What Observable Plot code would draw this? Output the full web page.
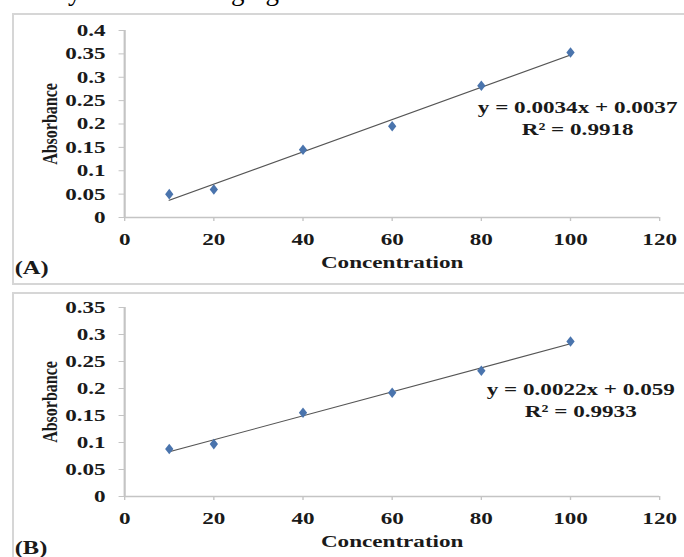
<!DOCTYPE html>
<html>
<head>
<meta charset="utf-8">
<script src="https://cdn.jsdelivr.net/npm/d3@7"></script>
<script src="https://cdn.jsdelivr.net/npm/@observablehq/plot@0.6"></script>
<style>
  html, body { margin: 0; padding: 0; background: #fff; }
  body { width: 684px; height: 557px; position: relative; overflow: hidden; }
  .box { position: absolute; border: 2px solid #d6d6d6; box-sizing: border-box; }
  svg.frag { position: absolute; left: 0; top: 0; overflow: hidden; }
</style>
</head>
<body>
<svg class="frag" width="684" height="9">
  <text x="68" y="0" font-family="Liberation Serif" font-size="27">y</text>
  <text x="231" y="0" font-family="Liberation Serif" font-size="27">ging</text>
</svg>
<div class="box" style="left:12px;top:13px;width:690px;height:272px;"></div>
<div class="box" style="left:12px;top:292px;width:690px;height:280px;"></div>
<script>
// ---- data ----
const concentration = [10, 20, 40, 60, 80, 100];
const absorbanceA = [0.05, 0.06, 0.145, 0.195, 0.282, 0.353];
const absorbanceB = [0.088, 0.097, 0.155, 0.192, 0.233, 0.287];
const xTicks = [0, 20, 40, 60, 80, 100, 120];
const yTicksA = [0, 0.05, 0.1, 0.15, 0.2, 0.25, 0.3, 0.35, 0.4];
const yTicksB = [0, 0.05, 0.1, 0.15, 0.2, 0.25, 0.3, 0.35];
const equationA = ["y = 0.0034x + 0.0037", "R² = 0.9918"];
const equationB = ["y = 0.0022x + 0.059", "R² = 0.9933"];
const xLabel = "Concentration";
const yLabel = "Absorbance";
const panelLabels = ["(A)", "(B)"];

// ---- drawing ----
const S = 1.36;            // horizontal stretch of the original picture
const W = 684 / S;
const FONT = "Liberation Serif";

function panel({ys, yTicks, eq, eqX, eqY, tag, tagDy, top, height, mTop, mBottom}) {
  const data = concentration.map((c, i) => ({c, a: ys[i]}));
  const fmt = d => String(+d.toFixed(3));
  const svg = Plot.plot({
    width: W,
    height,
    marginLeft: 124 / S,
    marginRight: (684 - 659) / S,
    marginTop: mTop,
    marginBottom: mBottom,
    style: {fontFamily: FONT, fontSize: "17px", fontWeight: "bold", background: "transparent", color: "#1a1a1a"},
    x: {domain: [0, 120]},
    y: {domain: [0, yTicks[yTicks.length - 1]]},
    marks: [
      Plot.axisX({ticks: xTicks, tickSize: 4, tickPadding: 11, stroke: "#c4c4c4", fill: "#1a1a1a", tickFormat: fmt, label: null}),
      Plot.axisY({ticks: yTicks, tickSize: 4, tickPadding: 10, stroke: "#c4c4c4", fill: "#1a1a1a", tickFormat: fmt, label: null}),
      Plot.ruleY([0], {stroke: "#c4c4c4", strokeWidth: 1.6}),
      Plot.ruleX([0], {stroke: "#c4c4c4", strokeWidth: 1.6}),
      Plot.linearRegressionY(data, {x: "c", y: "a", stroke: "#555", strokeWidth: 1.1, ci: 0}),
      Plot.dot(data, {x: "c", y: "a", symbol: "diamond", r: 3.2, fill: "#4a74ad", stroke: null}),
      Plot.text([eq.join("\n")], {x: eqX, y: eqY, textAnchor: "middle", lineAnchor: "middle", lineHeight: 1.3, fill: "#1a1a1a"}),
      Plot.text([xLabel], {frameAnchor: "bottom", dy: 45, textAnchor: "middle", lineAnchor: "middle", fill: "#1a1a1a"}),
      Plot.text([yLabel], {frameAnchor: "left", rotate: -90, dx: -(124 - 49) / S, textAnchor: "middle", lineAnchor: "middle", fontSize: 16, fill: "#1a1a1a"}),
      Plot.text([tag], {frameAnchor: "bottom-left", dx: (14 - 124) / S, dy: tagDy, textAnchor: "start", lineAnchor: "middle", fontSize: 18, fill: "#1a1a1a"})
    ]
  });
  svg.setAttribute("preserveAspectRatio", "none");
  svg.setAttribute("width", 684);
  svg.style.position = "absolute";
  svg.style.left = "0px";
  svg.style.top = top + "px";
  svg.style.width = "684px";
  svg.style.height = height + "px";
  svg.style.maxWidth = "none";
  document.body.appendChild(svg);
}

panel({ys: absorbanceA, yTicks: yTicksA, eq: equationA, eqX: 101.6, eqY: 0.216, tag: panelLabels[0], tagDy: 51,
       top: 0, height: 285, mTop: 30, mBottom: 68});
panel({ys: absorbanceB, yTicks: yTicksB, eq: equationB, eqX: 102.3, eqY: 0.18, tag: panelLabels[1], tagDy: 52,
       top: 285, height: 272, mTop: 22, mBottom: 61});
</script>
</body>
</html>
